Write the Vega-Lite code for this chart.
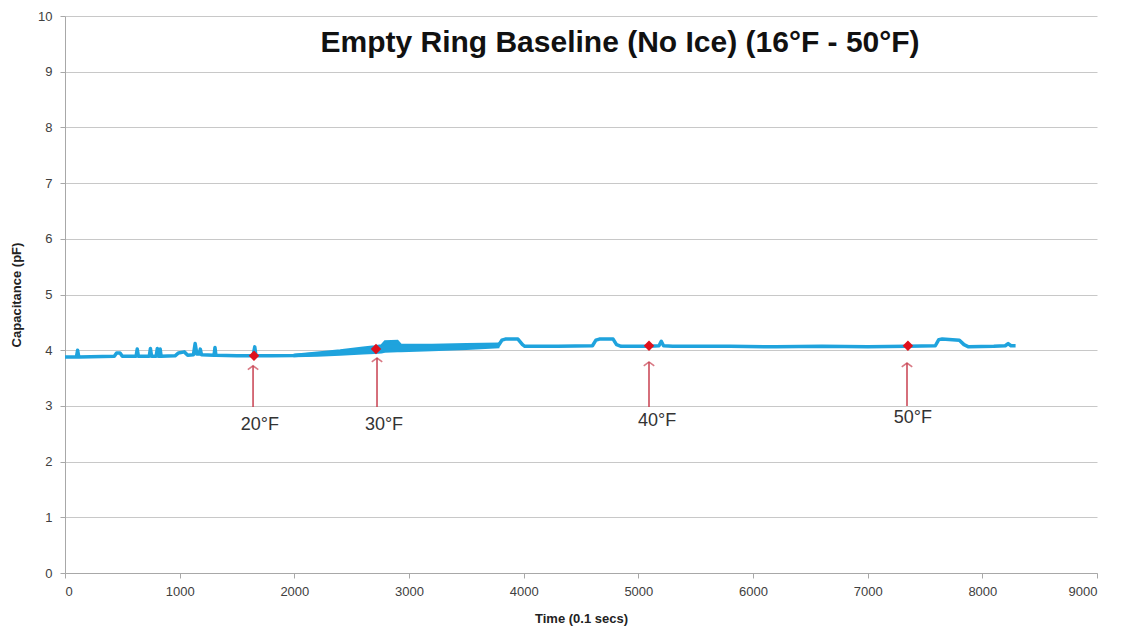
{
  "$schema": "https://vega.github.io/schema/vega-lite/v6.json",
  "width": 1032,
  "height": 557,
  "autosize": {"type": "none"},
  "padding": {"left": 65, "top": 16, "right": 25, "bottom": 58},
  "background": "white",
  "title": {
    "text": "Empty Ring Baseline (No Ice) (16°F - 50°F)",
    "font": "Liberation Sans",
    "fontSize": 30,
    "fontWeight": "bold",
    "color": "#111111",
    "anchor": "middle",
    "dx": 39,
    "dy": 52
  },
  "config": {
    "view": {"stroke": null},
    "font": "Liberation Sans",
    "axis": {
      "labelFont": "Liberation Sans",
      "labelFontSize": 13,
      "labelColor": "#404040",
      "titleFont": "Liberation Sans",
      "titleFontSize": 13,
      "titleFontWeight": "bold",
      "titleColor": "#222222",
      "domainColor": "#A8A8A8",
      "tickColor": "#A8A8A8",
      "tickSize": 5,
      "gridColor": "#C8C8C8"
    }
  },
  "datasets": {
    "series": [
      {"t": 0, "v": 3.88}, {"t": 100, "v": 3.88}, {"t": 110, "v": 4.0}, {"t": 120, "v": 3.88},
      {"t": 430, "v": 3.89}, {"t": 450, "v": 3.95}, {"t": 480, "v": 3.95}, {"t": 500, "v": 3.89},
      {"t": 620, "v": 3.89}, {"t": 630, "v": 4.02}, {"t": 640, "v": 3.89},
      {"t": 735, "v": 3.89}, {"t": 745, "v": 4.03}, {"t": 755, "v": 3.89},
      {"t": 795, "v": 3.89}, {"t": 805, "v": 4.03}, {"t": 815, "v": 3.89},
      {"t": 822, "v": 3.89}, {"t": 830, "v": 4.02}, {"t": 838, "v": 3.89},
      {"t": 960, "v": 3.9}, {"t": 990, "v": 3.95}, {"t": 1040, "v": 3.97}, {"t": 1070, "v": 3.91},
      {"t": 1120, "v": 3.92}, {"t": 1135, "v": 4.12}, {"t": 1150, "v": 3.93},
      {"t": 1170, "v": 3.93}, {"t": 1180, "v": 4.02}, {"t": 1190, "v": 3.92},
      {"t": 1300, "v": 3.91}, {"t": 1308, "v": 4.05}, {"t": 1316, "v": 3.91},
      {"t": 1500, "v": 3.9}, {"t": 1640, "v": 3.9}, {"t": 1655, "v": 4.06}, {"t": 1665, "v": 3.9},
      {"t": 1800, "v": 3.9},
      {"t": 2000, "v": 3.905}, {"t": 2200, "v": 3.93}, {"t": 2400, "v": 3.96}, {"t": 2600, "v": 3.995},
      {"t": 2700, "v": 4.01}, {"t": 2760, "v": 4.025}, {"t": 2790, "v": 4.06}, {"t": 2900, "v": 4.075},
      {"t": 2930, "v": 4.04}, {"t": 3200, "v": 4.05}, {"t": 3500, "v": 4.065}, {"t": 3780, "v": 4.085},
      {"t": 3810, "v": 4.18}, {"t": 3840, "v": 4.2}, {"t": 3950, "v": 4.2}, {"t": 3990, "v": 4.1},
      {"t": 4010, "v": 4.07}, {"t": 4300, "v": 4.07}, {"t": 4600, "v": 4.08},
      {"t": 4630, "v": 4.18}, {"t": 4660, "v": 4.2}, {"t": 4780, "v": 4.2}, {"t": 4810, "v": 4.1},
      {"t": 4850, "v": 4.07}, {"t": 5100, "v": 4.07}, {"t": 5180, "v": 4.08}, {"t": 5200, "v": 4.16},
      {"t": 5220, "v": 4.08}, {"t": 5300, "v": 4.07}, {"t": 5800, "v": 4.07}, {"t": 6200, "v": 4.06},
      {"t": 6600, "v": 4.07}, {"t": 7000, "v": 4.06}, {"t": 7350, "v": 4.07}, {"t": 7590, "v": 4.08},
      {"t": 7620, "v": 4.19}, {"t": 7650, "v": 4.2}, {"t": 7800, "v": 4.18}, {"t": 7840, "v": 4.1},
      {"t": 7880, "v": 4.06}, {"t": 8100, "v": 4.07}, {"t": 8200, "v": 4.08}, {"t": 8225, "v": 4.12},
      {"t": 8250, "v": 4.08}, {"t": 8290, "v": 4.08}
    ],
    "band": [
      {"t": 2000, "lo": 3.89, "hi": 3.92},
      {"t": 2200, "lo": 3.9, "hi": 3.96},
      {"t": 2400, "lo": 3.92, "hi": 4.0},
      {"t": 2600, "lo": 3.94, "hi": 4.05},
      {"t": 2700, "lo": 3.95, "hi": 4.07},
      {"t": 2760, "lo": 3.96, "hi": 4.09},
      {"t": 2790, "lo": 3.97, "hi": 4.16},
      {"t": 2900, "lo": 3.98, "hi": 4.17},
      {"t": 2930, "lo": 3.98, "hi": 4.1},
      {"t": 3200, "lo": 4.0, "hi": 4.1},
      {"t": 3500, "lo": 4.02, "hi": 4.11},
      {"t": 3780, "lo": 4.05, "hi": 4.12}
    ],
    "notes": [
      {"label": "20°F", "tm": 1648, "vm": 3.9, "ta": 1640, "ab": 2.98, "at": 3.72, "tl": 1700, "vl": 2.66},
      {"label": "30°F", "tm": 2712, "vm": 4.02, "ta": 2721, "ab": 2.98, "at": 3.86, "tl": 2782, "vl": 2.66},
      {"label": "40°F", "tm": 5093, "vm": 4.08, "ta": 5093, "ab": 2.98, "at": 3.79, "tl": 5163, "vl": 2.73},
      {"label": "50°F", "tm": 7351, "vm": 4.08, "ta": 7343, "ab": 3.0, "at": 3.77, "tl": 7395, "vl": 2.78}
    ]
  },
  "layer": [
    {
      "data": {"name": "band"},
      "mark": {"type": "area", "color": "#1FA3DD", "opacity": 1, "stroke": "#1FA3DD", "strokeWidth": 2},
      "encoding": {
        "x": {
          "field": "t", "type": "quantitative",
          "scale": {"domain": [0, 9000], "nice": false},
          "axis": {
            "title": "Time (0.1 secs)",
            "values": [0, 1000, 2000, 3000, 4000, 5000, 6000, 7000, 8000, 9000],
            "format": "d",
            "grid": false,
            "labelPadding": 7,
            "titlePadding": 14
          }
        },
        "y": {
          "field": "lo", "type": "quantitative",
          "scale": {"domain": [0, 10], "nice": false},
          "axis": {
            "title": "Capacitance (pF)",
            "values": [0, 1, 2, 3, 4, 5, 6, 7, 8, 9, 10],
            "grid": true,
            "labelPadding": 8,
            "titlePadding": 14
          }
        },
        "y2": {"field": "hi"}
      }
    },
    {
      "data": {"name": "series"},
      "mark": {"type": "line", "color": "#1FA3DD", "strokeWidth": 3.5, "strokeJoin": "round"},
      "encoding": {
        "x": {"field": "t", "type": "quantitative"},
        "y": {"field": "v", "type": "quantitative"}
      }
    },
    {
      "data": {"name": "notes"},
      "mark": {"type": "rule", "color": "#C84050", "strokeWidth": 1.5},
      "encoding": {
        "x": {"field": "ta", "type": "quantitative"},
        "y": {"field": "ab", "type": "quantitative"},
        "y2": {"field": "at"}
      }
    },
    {
      "data": {"name": "notes"},
      "mark": {"type": "point", "shape": "M-1,0.75L0,0L1,0.75", "filled": false, "stroke": "#C84050", "strokeWidth": 1.6, "size": 110},
      "encoding": {
        "x": {"field": "ta", "type": "quantitative"},
        "y": {"field": "at", "type": "quantitative"}
      }
    },
    {
      "data": {"name": "notes"},
      "mark": {"type": "point", "shape": "diamond", "filled": true, "color": "#E0101C", "opacity": 1, "size": 110},
      "encoding": {
        "x": {"field": "tm", "type": "quantitative"},
        "y": {"field": "vm", "type": "quantitative"}
      }
    },
    {
      "data": {"name": "notes"},
      "mark": {"type": "text", "font": "Liberation Sans", "fontSize": 18, "color": "#333333", "align": "center", "baseline": "middle"},
      "encoding": {
        "x": {"field": "tl", "type": "quantitative"},
        "y": {"field": "vl", "type": "quantitative"},
        "text": {"field": "label"}
      }
    }
  ]
}
